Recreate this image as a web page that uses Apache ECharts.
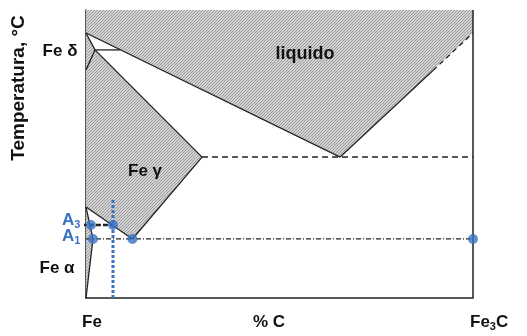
<!DOCTYPE html>
<html><head><meta charset="utf-8">
<script src="https://cdn.jsdelivr.net/npm/echarts@6/dist/echarts.min.js"></script>
<style>html,body{margin:0;padding:0;background:#fff}#c{width:527px;height:336px}</style>
</head><body><div id="c"></div>
<script>
// Schematic Fe–Fe3C diagram: x = % C, y = temperature (°C, schematic)
const xRange = [0, 6.67];
const yRange = [400, 1800];

const liquidRegion = [[0,1800],[6.67,1800],[6.67,1688],[4.38,1085],[0,1688]];
const gammaDeltaRegion = [[0,1688],[0.155,1606],[2.0,1085],[0.8,687],[0,842]];
const alphaRegion = [[0,842],[0.12,687],[0,400]];

const liquidusLeft = [[0,1688],[4.38,1085]];
const liquidusRightSolid = [[4.38,1085],[5.98,1506]];
const liquidusRightDashed = [[5.98,1506],[6.67,1688]];
const deltaBoundary = [[0,1688],[0.155,1606],[0,1508]];
const peritectic = [[0.155,1606],[0.59,1606]];
const gammaSolidus = [[0.155,1606],[2.0,1085]];
const acmLine = [[2.0,1085],[0.8,687]];
const a3Line = [[0,842],[0.8,687]];
const alphaSolvus = [[0,842],[0.12,687],[0,400]];
const eutecticLine = [[2.0,1085],[6.67,1085]];
const eutectoidLine = [[0,687],[6.67,687]];
const a3Marker = [[-0.07,755],[0.465,755]];
const compositionLine = [[0.465,400],[0.465,876]];
const rightFrame = [[6.67,400],[6.67,1800]];
const bluePoints = [[0.086,755],[0.465,755],[0.12,687],[0.8,687],[6.67,687]];

// hatch pattern
const pc = document.createElement('canvas');
pc.width = 3; pc.height = 3;
const g = pc.getContext('2d');
g.fillStyle = '#d3d3d3'; g.fillRect(0,0,3,3);
g.fillStyle = '#9a9a9a';
for (let i = 0; i < 3; i++) g.fillRect(i, 2 - i, 1, 1);
const hatch = { image: pc, repeat: 'repeat' };

const BLUE = '#3a72c2';
const INK = '#222';

function region(name, pts) {
  return {
    type: 'custom', name, silent: true, z: 1,
    data: [[pts[0][0], pts[0][1]]],
    renderItem: (params, api) => ({
      type: 'polygon',
      shape: { points: pts.map(p => api.coord(p)) },
      style: { fill: hatch, stroke: null }
    })
  };
}
function line(name, pts, style, z) {
  return {
    type: 'line', name, data: pts, symbol: 'none', silent: true, z: z || 3,
    clip: false, animation: false,
    lineStyle: Object.assign({ color: INK, width: 1.3 }, style)
  };
}

const chart = echarts.init(document.getElementById('c'), null, { renderer: 'canvas' });
const labelFont = '"Liberation Sans", Arial, sans-serif';
function txt(x, y, text, size, extra) {
  return Object.assign({ type: 'text', x, y, z: 100,
    style: { text, font: 'bold ' + size + 'px ' + labelFont, fill: '#111', align: 'center', verticalAlign: 'middle' } }, extra || {});
}
function sub(x, y, a, s, b, color) {
  return { type: 'text', x, y, z: 100,
    style: { text: '{a|' + a + '}{s|' + s + '}' + (b ? '{a|' + b + '}' : ''), verticalAlign: 'middle',
      rich: { a: { font: 'bold 17px ' + labelFont, fill: color }, s: { font: 'bold 11px ' + labelFont, fill: color, padding: [10, 0, 0, 0] } } } };
}
chart.setOption({
  animation: false,
  grid: { left: 86, top: 10, right: 54, bottom: 38 },
  xAxis: {
    type: 'value', min: xRange[0], max: xRange[1],
    axisLine: { show: true, onZero: false, lineStyle: { color: INK, width: 1.5 } },
    axisTick: { show: false }, axisLabel: { show: false }, splitLine: { show: false }
  },
  yAxis: {
    type: 'value', min: yRange[0], max: yRange[1],
    axisLine: { show: true, onZero: false, lineStyle: { color: INK, width: 1.5 } },
    axisTick: { show: false }, axisLabel: { show: false }, splitLine: { show: false }
  },
  series: [
    region('liquid', liquidRegion),
    region('gamma-delta', gammaDeltaRegion),
    region('alpha', alphaRegion),
    line('liquidusLeft', liquidusLeft),
    line('liquidusRightSolid', liquidusRightSolid),
    line('liquidusRightDashed', liquidusRightDashed, { type: [5, 4] }),
    line('delta', deltaBoundary),
    line('peritectic', peritectic),
    line('gammaSolidus', gammaSolidus),
    line('acm', acmLine),
    line('a3', a3Line),
    line('alphaSolvus', alphaSolvus),
    line('eutectic', eutecticLine, { type: [6, 4], width: 1.5 }),
    line('eutectoid', eutectoidLine, { type: [5, 2, 1, 2], width: 1.2 }),
    line('a3Marker', a3Marker, { type: [5, 2], width: 2.6 }),
    line('composition', compositionLine, { color: BLUE, type: [3, 2], width: 3 }, 4),
    line('rightFrame', rightFrame, { width: 1.5 }),
    {
      type: 'scatter', name: 'points', data: bluePoints, symbol: 'circle', symbolSize: 10,
      itemStyle: { color: BLUE }, z: 5, silent: true, clip: false
    }
  ],
  graphic: [
    txt(19, 88, 'Temperatura, °C', 19, { rotation: Math.PI / 2 }),
    txt(60, 51, 'Fe δ', 17),
    txt(305, 54, 'liquido', 18),
    txt(145, 171, 'Fe γ', 17),
    txt(57, 268, 'Fe α', 17),
    sub(62, 220, 'A', '3', '', BLUE),
    sub(62, 236, 'A', '1', '', BLUE),
    txt(92, 322, 'Fe', 17),
    txt(269, 322, '% C', 17),
    sub(470, 322, 'Fe', '3', 'C', '#111')
  ]
});
</script></body></html>
